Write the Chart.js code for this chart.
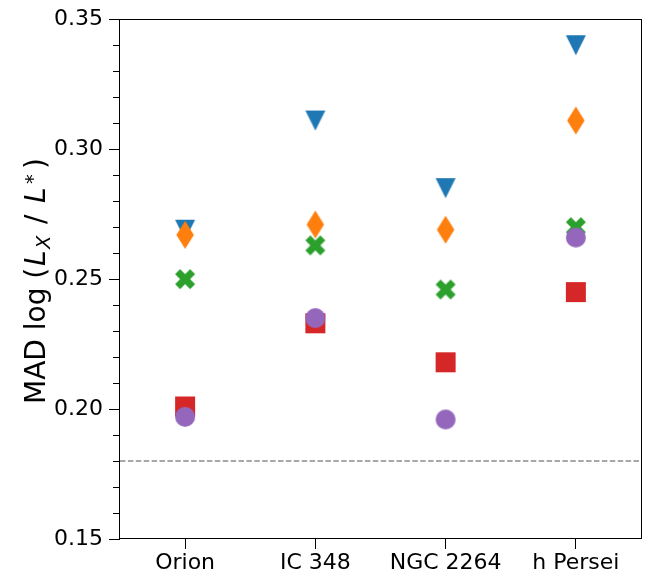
<!DOCTYPE html>
<html>
<head>
<meta charset="utf-8">
<script src="https://cdn.jsdelivr.net/npm/chart.js@4"></script>
<style>
  html, body { margin: 0; padding: 0; background: #ffffff; }
  #wrap { width: 656px; height: 577px; }
</style>
</head>
<body>
<div id="wrap"><canvas id="chart" width="656" height="577"></canvas></div>
<script>
// Clusters on the x axis
const categories = ['Orion', 'IC 348', 'NGC 2264', 'h Persei'];

// MAD of log(Lx/L*) per cluster, one array per marker series
const triValues     = [0.269, 0.311, 0.285, 0.340];
const diamondValues = [0.267, 0.271, 0.269, 0.311];
const crossValues   = [0.250, 0.263, 0.246, 0.270];
const squareValues  = [0.201, 0.233, 0.218, 0.245];
const circleValues  = [0.197, 0.235, 0.196, 0.266];

// Horizontal reference level (dashed)
const referenceLevel = 0.18;

// Y tick labels
const yMajorTicks = [0.15, 0.20, 0.25, 0.30, 0.35];
const yMinorTicks = [0.16, 0.17, 0.18, 0.19, 0.21, 0.22, 0.23, 0.24, 0.26, 0.27, 0.28, 0.29, 0.31, 0.32, 0.33, 0.34];

const FONT = '"DejaVu Sans", "Liberation Sans", sans-serif';

// --- marker sprites -------------------------------------------------------
function sprite(w, h, color, draw) {
  const c = document.createElement('canvas');
  c.width = w; c.height = h;
  const g = c.getContext('2d');
  g.fillStyle = color;
  g.beginPath();
  draw(g, w, h);
  g.closePath();
  g.fill();
  return c;
}
const markerTri = sprite(22, 22, '#1f77b4', (g) => {
  g.moveTo(1, 1); g.lineTo(21, 1); g.lineTo(11, 21);
});
const markerDiamond = sprite(20, 30, '#ff7f0e', (g) => {
  g.moveTo(10, 1); g.lineTo(18.75, 15); g.lineTo(10, 29); g.lineTo(1.25, 15);
});
const markerCross = sprite(22, 22, '#2ca02c', (g) => {
  const pts = [[0.25,0],[0.5,0.25],[0.75,0],[1,0.25],[0.75,0.5],[1,0.75],[0.75,1],[0.5,0.75],[0.25,1],[0,0.75],[0.25,0.5],[0,0.25]];
  pts.forEach(([px, py], i) => {
    const x = 1 + px * 20, y = 1 + py * 20;
    if (i === 0) g.moveTo(x, y); else g.lineTo(x, y);
  });
});
const markerSquare = sprite(22, 22, '#d62728', (g) => {
  g.rect(1, 1, 20, 20);
});
const markerCircle = sprite(22, 22, '#9467bd', (g) => {
  g.arc(11, 11, 10, 0, Math.PI * 2);
});

function toPoints(values) {
  return values.map((v, i) => ({ x: i, y: v }));
}

// --- plugins ----------------------------------------------------------------
const frameAndTitle = {
  id: 'frameAndTitle',
  afterDraw(chart) {
    const { ctx, chartArea: a, scales } = chart;
    ctx.save();
    // full box frame
    ctx.strokeStyle = '#000000';
    ctx.lineWidth = 1;
    ctx.strokeRect(Math.round(a.left) - 0.5, Math.round(a.top) + 0.5,
                   Math.round(a.right - a.left) + 1, Math.round(a.bottom - a.top) - 1);

    // minor y ticks
    const y = scales.y;
    ctx.beginPath();
    yMinorTicks.forEach(v => {
      const py = Math.round(y.getPixelForValue(v)) + 0.5;
      ctx.moveTo(a.left - 0.5, py);
      ctx.lineTo(a.left - 7, py);
    });
    ctx.stroke();

    // y axis title: MAD log (L_X / L_*), set piece by piece with math spacing
    const big = 28, small = 19.5;
    const parts = [
      { t: 'MAD log (', f: `${big}px ${FONT}`, at: 0, dy: 0 },
      { t: 'L', f: `italic ${big}px ${FONT}`, at: 138, dy: 0 },
      { t: 'X', f: `italic ${small}px ${FONT}`, at: 155, dy: 5 },
      { t: '/', f: `${big}px ${FONT}`, at: 180, dy: 0 },
      { t: 'L', f: `italic ${big}px ${FONT}`, at: 201, dy: 0 },
      { t: '*', f: `${small}px ${FONT}`, at: 220, dy: -6 },
      { t: ')', f: `${big}px ${FONT}`, at: 235, dy: 0 }
    ];
    ctx.translate(45, 404);
    ctx.rotate(-Math.PI / 2);
    ctx.fillStyle = '#000000';
    ctx.textBaseline = 'alphabetic';
    ctx.textAlign = 'left';
    parts.forEach(p => {
      ctx.font = p.f;
      ctx.fillText(p.t, p.at, p.dy);
    });
    ctx.restore();
  }
};

const bg = {
  id: 'bg',
  beforeDraw(chart) {
    const { ctx, width, height } = chart;
    ctx.save();
    ctx.fillStyle = '#ffffff';
    ctx.fillRect(0, 0, width, height);
    ctx.restore();
  }
};

// --- chart ----------------------------------------------------------------
const markerSet = (label, values, style, order) => ({
  type: 'scatter',
  label,
  data: toPoints(values),
  pointStyle: style,
  pointRadius: 14,
  order
});

new Chart(document.getElementById('chart'), {
  type: 'scatter',
  data: {
    datasets: [
      {
        type: 'line',
        label: 'reference',
        data: [{ x: -0.5, y: referenceLevel }, { x: 3.5, y: referenceLevel }],
        borderColor: '#8c8c8c',
        borderWidth: 1.5,
        borderDash: [5.5, 2.4],
        pointRadius: 0,
        fill: false,
        order: 10
      },
      markerSet('tri', triValues, markerTri, 5),
      markerSet('diamond', diamondValues, markerDiamond, 4),
      markerSet('cross', crossValues, markerCross, 3),
      markerSet('square', squareValues, markerSquare, 2),
      markerSet('circle', circleValues, markerCircle, 1)
    ]
  },
  options: {
    responsive: false,
    animation: false,
    events: [],
    layout: { padding: { top: 15, right: 12, left: 0, bottom: 0 } },
    plugins: { legend: { display: false }, tooltip: { enabled: false } },
    scales: {
      x: {
        type: 'linear',
        min: -0.5,
        max: 3.5,
        afterBuildTicks(scale) { scale.ticks = categories.map((c, i) => ({ value: i })); },
        afterFit(scale) { scale.height = 38; },
        ticks: {
          callback: (v) => categories[v] ?? '',
          color: '#000000',
          font: { family: FONT, size: 22 },
          padding: 1,
          maxRotation: 0,
          autoSkip: false
        },
        grid: { drawOnChartArea: false, drawTicks: true, tickLength: 10, tickColor: '#000000', tickWidth: 1 },
        border: { display: false }
      },
      y: {
        type: 'linear',
        min: 0.15,
        max: 0.35,
        afterBuildTicks(scale) { scale.ticks = yMajorTicks.map(v => ({ value: v })); },
        afterFit(scale) { scale.width = 120; },
        ticks: {
          callback: (v) => Number(v).toFixed(2),
          color: '#000000',
          font: { family: FONT, size: 22 },
          padding: 6
        },
        grid: { drawOnChartArea: false, drawTicks: true, tickLength: 11, tickColor: '#000000', tickWidth: 1 },
        border: { display: false }
      }
    }
  },
  plugins: [bg, frameAndTitle]
});
</script>
</body>
</html>
